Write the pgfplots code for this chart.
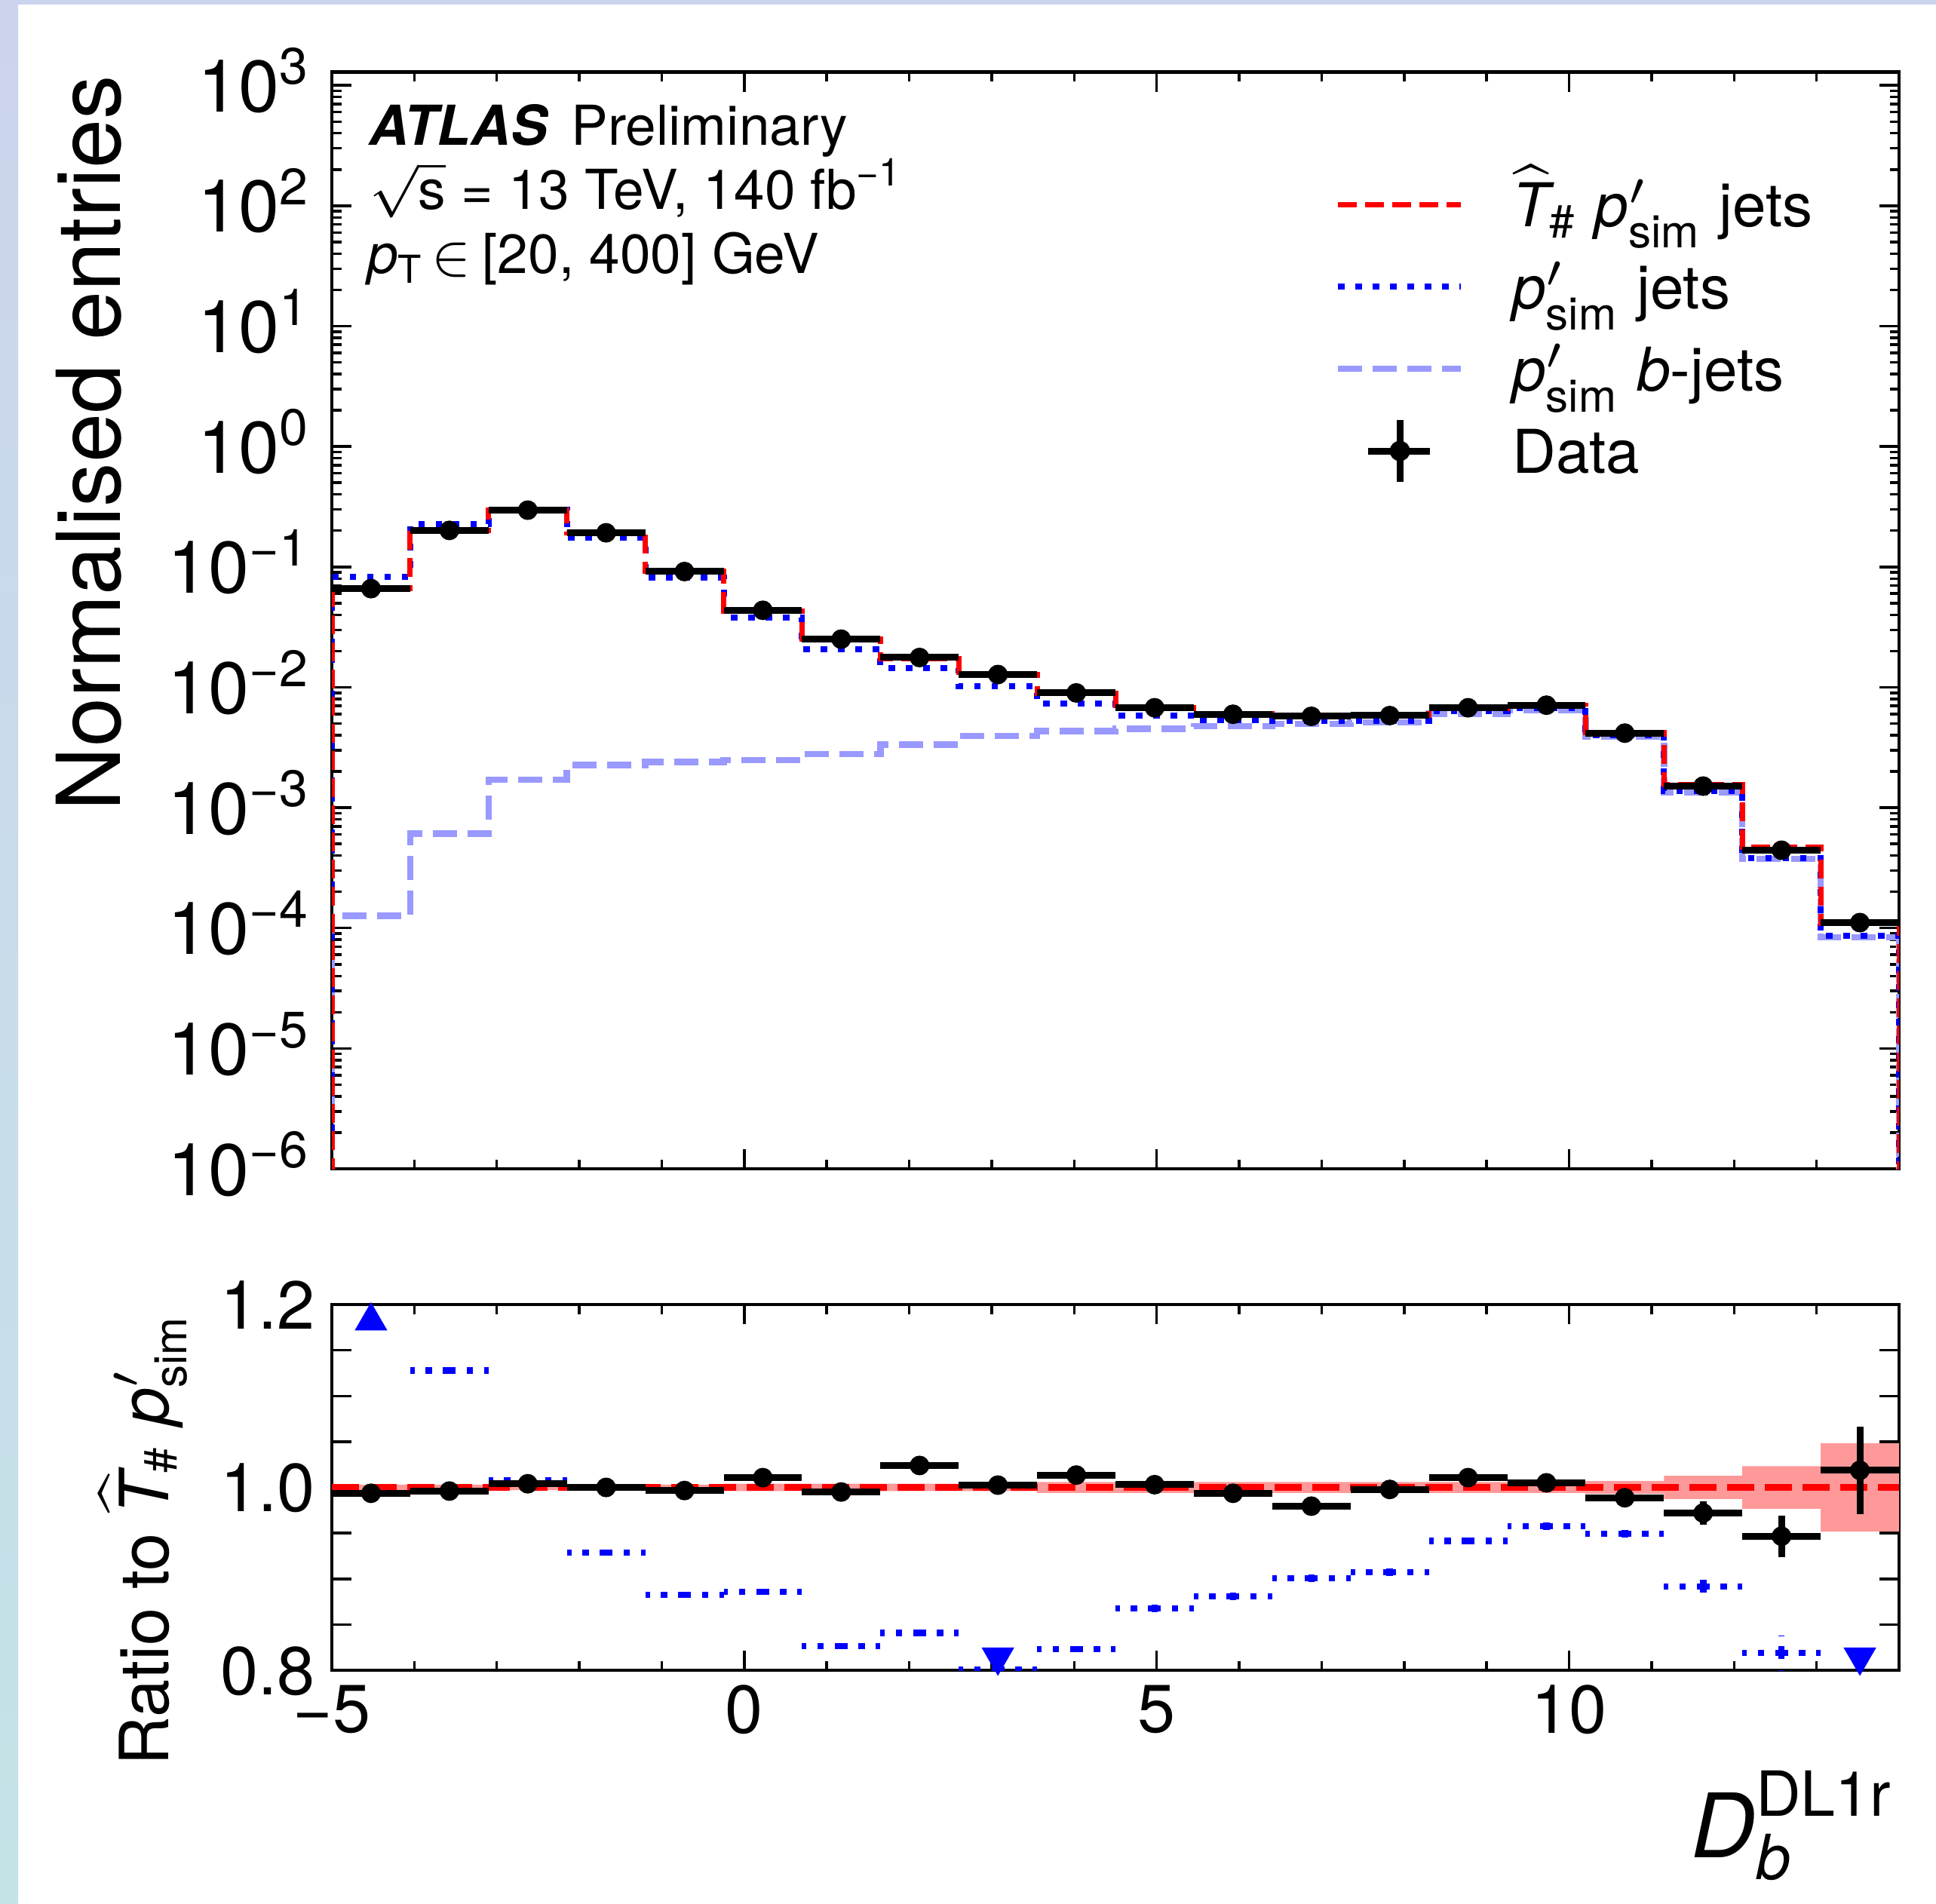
\documentclass[border=0pt]{standalone}
\usepackage{amsmath}
\usepackage{fontspec}
\setmainfont{TeX Gyre Heros}
\usepackage{pgfplots}
\pgfplotsset{compat=1.18}
\usepackage{pgfplotstable}
\newcommand{\fs}[1]{\fontsize{#1}{#1}\selectfont}
\newcommand{\tp}[1]{10\textsuperscript{#1}}
\definecolor{bandred}{RGB}{255,153,153}
\definecolor{lblue}{RGB}{153,153,255}
\definecolor{bgA}{RGB}{204,212,237}
\definecolor{bgB}{RGB}{196,227,231}

% step histograms: left bin edges and bin contents
\pgfplotstableread{
x      red       blue      light
-5.00  1e-9      1e-9      1e-9
-5.00  0.0664    0.083     1.26e-4
-4.05  0.2018    0.2276    6.1e-4
-3.10  0.2948    0.297     1.71e-3
-2.15  0.192     0.176     2.27e-3
-1.20  0.0918    0.0810    2.39e-3
-0.25  0.04314   0.0382    2.48e-3
0.70   0.02523   0.02085   2.79e-3
1.65   0.01726   0.01452   3.35e-3
2.60   0.01273   0.0102    3.95e-3
3.55   0.00886   0.00729   4.33e-3
4.50   0.00674   0.00585   4.52e-3
5.45   0.00601   0.0053    4.74e-3
6.40   0.00586   0.00528   4.97e-3
7.35   0.00583   0.00529   5.1e-3
8.30   0.00669   0.0063    6.05e-3
9.25   0.00706   0.00676   6.5e-3
10.20  0.00421   0.0040    3.9e-3
11.15  0.00155   0.00138   1.34e-3
12.10  4.68e-4   3.83e-4   3.75e-4
13.05  1.09e-4   8.6e-5    8.4e-5
14.00  1.09e-4   8.6e-5    8.4e-5
14.00  1e-9      1e-9      1e-9
}\histtab

\pgfplotstableread{
x       y        ex
-4.525  0.066    0.475
-3.575  0.201    0.475
-2.625  0.296    0.475
-1.675  0.192    0.475
-0.725  0.0915   0.475
0.225   0.0436   0.475
1.175   0.0251   0.475
2.125   0.01767  0.475
3.075   0.01276  0.475
4.025   0.00898  0.475
4.975   0.00676  0.475
5.925   0.00597  0.475
6.875   0.00574  0.475
7.825   0.00582  0.475
8.775   0.00676  0.475
9.725   0.0071   0.475
10.675  0.00416  0.475
11.625  0.00151  0.475
12.575  4.43e-4  0.475
13.525  1.11e-4  0.475
}\datatab

\pgfplotstableread{
x       y       ex     ey
-4.525  0.9936  0.475  0.002
-3.575  0.996   0.475  0.002
-2.625  1.004   0.475  0.002
-1.675  1.000   0.475  0.002
-0.725  0.9966  0.475  0.002
0.225   1.0107  0.475  0.003
1.175   0.995   0.475  0.003
2.125   1.024   0.475  0.003
3.075   1.0025  0.475  0.003
4.025   1.0135  0.475  0.003
4.975   1.003   0.475  0.004
5.925   0.9936  0.475  0.004
6.875   0.9795  0.475  0.004
7.825   0.9978  0.475  0.004
8.775   1.0107  0.475  0.004
9.725   1.005   0.475  0.004
10.675  0.9887  0.475  0.006
11.625  0.972   0.475  0.0125
12.575  0.9466  0.475  0.0226
13.525  1.0187  0.475  0.048
}\ratiodata

\pgfplotstableread{
x       y       ex     ey
-3.575  1.128   0.475  0.002
-2.625  1.0075  0.475  0.002
-1.675  0.9288  0.475  0.002
-0.725  0.8825  0.475  0.002
0.225   0.886   0.475  0.003
1.175   0.8265  0.475  0.003
2.125   0.841   0.475  0.003
3.075   0.801   0.475  0.003
4.025   0.8233  0.475  0.003
4.975   0.8678  0.475  0.004
5.925   0.881   0.475  0.004
6.875   0.9008  0.475  0.004
7.825   0.9073  0.475  0.004
8.775   0.9415  0.475  0.004
9.725   0.9577  0.475  0.004
10.675  0.9494  0.475  0.004
11.625  0.8916  0.475  0.0118
12.575  0.8191  0.475  0.019
}\ratioblue

% uncertainty band of the reference: lower edge and full width per bin
\pgfplotstableread{
x      lo      w
-5.00  0.997   0.006
-4.05  0.997   0.006
-3.10  0.997   0.006
-2.15  0.997   0.006
-1.20  0.997   0.006
-0.25  0.996   0.008
0.70   0.996   0.008
1.65   0.996   0.008
2.60   0.996   0.008
3.55   0.994   0.012
4.50   0.994   0.012
5.45   0.994   0.012
6.40   0.994   0.012
7.35   0.994   0.012
8.30   0.994   0.012
9.25   0.994   0.012
10.20  0.993   0.014
11.15  0.9873  0.0254
12.10  0.9767  0.0466
13.05  0.9516  0.0968
14.00  0.9516  0.0968
}\bandtab

\pgfplotsset{
  atl/.style={
    scale only axis, width=207.8pt,
    xmin=-5, xmax=14,
    axis line style={line width=0.45pt},
    tick style={line width=0.35pt, black},
    tick align=inside, tick pos=both,
    major tick length=2.6pt, minor tick length=1.25pt,
    xtick={-5,0,5,10},
    minor xtick={-4,-3,-2,-1,1,2,3,4,6,7,8,9,11,12,13},
  },
}

\begin{document}
\begin{tikzpicture}
\fill[white] (0,0) rectangle (256.7pt,-252.4pt);
\shade[top color=bgA, bottom color=bgB] (0,0) rectangle (2.4pt,-252.4pt);
\fill[bgA] (0,0) rectangle (256.7pt,-0.55pt);

% ---------------- top panel ----------------
\begin{axis}[atl,
  at={(44.0pt,-9.55pt)}, anchor=north west,
  height=145.45pt,
  ymode=log, ymin=1e-6, ymax=1290,
  xticklabels={},
  ytick={1e-6,1e-5,1e-4,1e-3,1e-2,1e-1,1,10,100,1000},
  yticklabels={\tp{−6},\tp{−5},\tp{−4},\tp{−3},\tp{−2},\tp{−1},\tp{0},\tp{1},\tp{2},\tp{3}},
  minor ytick={2e-6,3e-6,4e-6,5e-6,6e-6,7e-6,8e-6,9e-6,
               2e-5,3e-5,4e-5,5e-5,6e-5,7e-5,8e-5,9e-5,
               2e-4,3e-4,4e-4,5e-4,6e-4,7e-4,8e-4,9e-4,
               2e-3,3e-3,4e-3,5e-3,6e-3,7e-3,8e-3,9e-3,
               2e-2,3e-2,4e-2,5e-2,6e-2,7e-2,8e-2,9e-2,
               0.2,0.3,0.4,0.5,0.6,0.7,0.8,0.9,
               2,3,4,5,6,7,8,9,
               20,30,40,50,60,70,80,90,
               200,300,400,500,600,700,800,900},
  yticklabel style={font=\fs{9.7pt}, anchor=base east, inner sep=0pt, xshift=-2.5pt, yshift=-3.5pt},
  legend style={
    at={(0.6400,0.9168)}, anchor=north west,
    draw=none, fill=none, inner sep=0pt, outer sep=0pt,
    font=\fs{8pt}, row sep=0pt,
    nodes={inner sep=0pt, text height=8.35pt, text depth=2.55pt},
    /tikz/every odd column/.style={column sep=6.4pt},
  },
  legend cell align=left,
]
\addplot[forget plot, const plot, lblue, line width=0.85pt, dash pattern=on 3.2pt off 1.4pt] table[x=x,y=light]{\histtab};
\addplot[forget plot, const plot, blue, line width=0.8pt, dash pattern=on 0.85pt off 1.45pt] table[x=x,y=blue]{\histtab};
\addplot[forget plot, const plot, red, line width=0.7pt, dash pattern=on 2.5pt off 1.1pt] table[x=x,y=red]{\histtab};
\addplot[forget plot, black, only marks, mark=*, mark size=1.1pt,
  error bars/.cd, x dir=both, x explicit, error mark=none,
  error bar style={line width=0.9pt, solid, black}]
  table[x=x, y=y, x error=ex]{\datatab};

\addlegendimage{legend image code/.code={\draw[red, line width=0.7pt, dash pattern=on 2.5pt off 1.1pt] (0pt,0pt) -- (16.3pt,0pt);}}
\addlegendentry{$\widehat{\text{\itshape T}}_{\text{\#}}$ $\text{\itshape p}'_{\text{sim}}$ jets}
\addlegendimage{legend image code/.code={\draw[blue, line width=0.8pt, dash pattern=on 0.85pt off 1.45pt] (0pt,0pt) -- (16.3pt,0pt);}}
\addlegendentry{$\text{\itshape p}'_{\text{sim}}$ jets}
\addlegendimage{legend image code/.code={\draw[lblue, line width=0.85pt, dash pattern=on 3.2pt off 1.4pt] (0pt,0pt) -- (16.3pt,0pt);}}
\addlegendentry{$\text{\itshape p}'_{\text{sim}}$ \textit{b}-jets}
\addlegendimage{legend image code/.code={\draw[black, line width=0.9pt] (4.0pt,0pt) -- (12.2pt,0pt); \draw[black, line width=0.9pt] (8.2pt,-4.1pt) -- (8.2pt,4.1pt); \fill[black] (8.2pt,0pt) circle (1.15pt);}}
\addlegendentry{Data}
\end{axis}

% ---------------- ratio panel ----------------
\begin{axis}[atl,
  at={(44.0pt,-173.0pt)}, anchor=north west,
  height=48.5pt,
  ymin=0.8, ymax=1.2,
  xticklabels={−5,0,5,10},
  ytick={0.8,0.85,0.9,0.95,1.0,1.05,1.1,1.15,1.2},
  yticklabels={0.8,,,,1.0,,,,1.2},
  ticklabel style={font=\fs{9pt}},
  yticklabel style={anchor=base east, inner sep=0pt, xshift=-2.0pt, yshift=-3.24pt},
  xticklabel style={anchor=north, inner sep=0pt, yshift=-1.8pt},
]
\addplot[forget plot, draw=none, const plot, stack plots=y] table[x=x,y=lo]{\bandtab};
\addplot[forget plot, fill=bandred, draw=none, const plot, stack plots=y] table[x=x,y=w]{\bandtab} \closedcycle;
\addplot[forget plot, red, line width=0.9pt, dash pattern=on 3.6pt off 1.4pt] coordinates {(-5,1) (14,1)};
\addplot[forget plot, blue, only marks, mark=*, mark size=0pt, mark options={draw=none, fill=none},
  error bars/.cd, x dir=both, x explicit, y dir=both, y explicit, error mark=none,
  error bar style={blue, line width=0.85pt, dash pattern=on 0.85pt off 1.45pt}]
  table[x=x, y=y, x error=ex, y error=ey]{\ratioblue};
\addplot[forget plot, blue, only marks, mark=triangle*, mark size=2.1pt] coordinates {(-4.525,1.182)};
\addplot[forget plot, blue, only marks, mark=triangle*, mark size=2.1pt, mark options={rotate=180}] coordinates {(3.075,0.8145) (13.525,0.8145)};
\addplot[forget plot, black, only marks, mark=*, mark size=1.1pt,
  error bars/.cd, x dir=both, x explicit, y dir=both, y explicit, error mark=none,
  error bar style={line width=0.9pt, solid, black}]
  table[x=x, y=y, x error=ex, y error=ey]{\ratiodata};
\end{axis}

% ---------------- texts ----------------
\node[anchor=base west, inner sep=0pt, font=\fs{7.3pt}] at (48.7pt,-19.2pt) {\textbf{\textit{ATLAS}}\hspace{0.42em}Preliminary};
\node[anchor=base west, inner sep=0pt, font=\fs{7.3pt}] at (48.7pt,-27.7pt) {$\sqrt{\text{s}}$ = 13 TeV, 140 fb\textsuperscript{−1}};
\node[anchor=base west, inner sep=0pt, font=\fs{7.3pt}] at (48.5pt,-36.2pt) {\textit{p}\textsubscript{T}\hspace{0.1em}$\in$\hspace{0.2em}[20, 400] GeV};
\node[rotate=90, anchor=base east, inner sep=0pt, font=\fs{11.7pt}] at (15.9pt,-9.8pt) {Normalised entries};
\node[rotate=90, anchor=base east, inner sep=0pt, font=\fs{9.0pt}] at (22.3pt,-174.0pt) {Ratio to $\widehat{\text{\itshape T}}_{\text{\#}}$ $\text{\itshape p}'_{\text{sim}}$};
\node[anchor=base east, inner sep=0pt, font=\fs{11.8pt}] at (251.4pt,-246.3pt) {$\text{\itshape D}_{\text{\itshape b}}^{\text{DL1r}}$};
\end{tikzpicture}
\end{document}
